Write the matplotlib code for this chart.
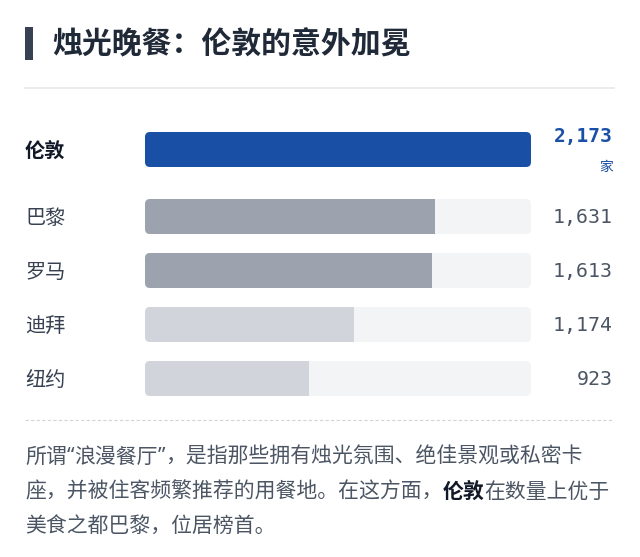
import matplotlib.pyplot as plt
from matplotlib.patches import FancyBboxPatch, Rectangle

plt.rcParams['font.family'] = ['Noto Sans CJK SC', 'DejaVu Sans']

# 数据
cities = ["伦敦", "巴黎", "罗马", "迪拜", "纽约"]
counts = [2173, 1631, 1613, 1174, 923]
bar_colors = ["#1a4fa6", "#9ca3af", "#9ca3af", "#d1d5db", "#d1d5db"]
title = "烛光晚餐：伦敦的意外加冕"
unit = "家"
note_lines = [
    ["所谓", "“", "浪漫餐厅", "”", "，是指那些拥有烛光氛围、绝佳景观或私密卡"],
    ["座，并被住客频繁推荐的用餐地。在这方面，", "伦敦", "在数量上优于"],
    ["美食之都巴黎，位居榜首。"],
]

W, H = 640, 557
fig = plt.figure(figsize=(W / 100, H / 100), dpi=100)
fig.patch.set_facecolor("white")

ax = fig.add_axes([0, 0, 1, 1])
ax.set_xlim(0, W)
ax.set_ylim(H, 0)
ax.axis("off")

# 标题
ax.add_patch(Rectangle((25, 27), 8, 33, color="#374151", lw=0))
ax.text(52, 44.5, title, fontsize=21.5, fontweight="bold", color="#1f2937",
        ha="left", va="center")
ax.plot([25, 614], [88, 88], color="#e5e7eb", lw=1.2)

# 条形图
track_x0, track_w = 145, 386
vmax = max(counts)
bx = fig.add_axes([track_x0 / W, 0, track_w / W, 1])
bx.set_xlim(0, vmax)
bx.set_ylim(H, 0)
bx.axis("off")

bar_h = 35
ys = [149.5] + [216.5 + 54 * k for k in range(len(cities) - 1)]
x_per_px = vmax / track_w
radius = 5
num_font = ['DejaVu Sans Mono']

for i, (city, v, c, y) in enumerate(zip(cities, counts, bar_colors, ys)):
    track = FancyBboxPatch((0, y - bar_h / 2), vmax, bar_h,
                           boxstyle=f"round,pad=0,rounding_size={radius * x_per_px}",
                           mutation_aspect=1 / x_per_px,
                           facecolor="#f3f4f6", edgecolor="none")
    bx.add_patch(track)
    bars = bx.barh([y], [v], height=bar_h, color=c, lw=0)
    for b in bars:
        b.set_clip_path(track)

    top = i == 0
    ax.text(25, y + 1.5, city, fontsize=14.5, ha="left", va="center",
            fontweight="bold" if top else "normal",
            color="#111827" if top else "#374151")
    if top:
        ax.text(613, y - 13, f"{v:,}", fontsize=14, fontweight="bold",
                family=num_font, color="#1a4fa6", ha="right", va="center")
        ax.text(613, y + 17, unit, fontsize=10, color="#1a4fa6",
                ha="right", va="center")
    else:
        ax.text(613, y + 1, f"{v:,}", fontsize=14.3, family=num_font,
                color="#4b5563", ha="right", va="center")

ax.plot([25, 614], [420, 420], color="#d1d5db", lw=0.8, ls=(0, (3, 2)))

# 说明文字
line_y = [457, 491.5, 526]
for segs, y in zip(note_lines, line_y):
    prev = None
    for s in segs:
        bold = s == "伦敦"
        kw = dict(fontsize=15, color="#111827" if bold else "#4b5563",
                  fontweight="bold" if bold else "normal", ha="left")
        if s in ("“", "”"):
            kw["family"] = ['Noto Sans']
        if prev is None:
            prev = ax.text(25, y, s, va="center", **kw)
        else:
            prev = ax.annotate(s, xy=(1, 0.5), xycoords=prev, va="center",
                               **kw)

fig.savefig("out.png", dpi=100)
